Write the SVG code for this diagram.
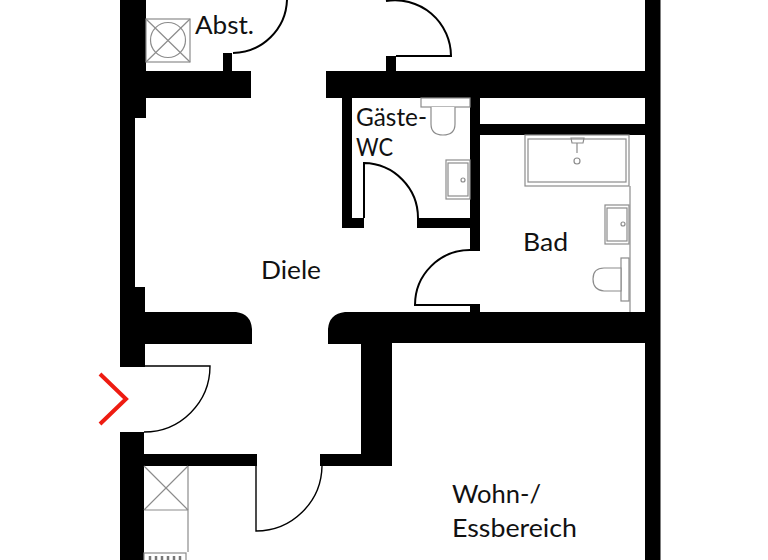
<svg xmlns="http://www.w3.org/2000/svg" width="768" height="560" viewBox="0 0 768 560">
<style>
.w{fill:#000}
.d{fill:none;stroke:#000;stroke-width:2}
.e{fill:none;stroke:#000;stroke-width:1.4}
.f{fill:#fff;stroke:#8c8c8c;stroke-width:1.2}
.g{fill:none;stroke:#8c8c8c;stroke-width:1.2}
text{font-family:Lato,"Open Sans","Liberation Sans",sans-serif;font-size:24.500px;fill:#111}
</style>
<rect width="768" height="560" fill="#fff"/>
<g id="walls">
<path class="w" d="M120 0H146V71H223V53H232V71H251V98H146V118H135V287H145V312H236Q251 314 252 329V344H145V367H120Z"/>
<path class="w" d="M120 432H144V454H257V466H144V560H120Z"/>
<path class="w" d="M326 71H386V56H396V71H645V0H660.500V560H645V343H392V466H320V454H361V344H328V329Q329 314 345 312H470V304H480V312H645V135H480V251H470V228H417V218H470V98H480V124H645V98H352V228H342V98H326Z"/>
<rect class="w" x="342" y="218" width="22" height="10"/>
</g>
<g id="doors">
<path class="d" d="M233 53A55 55 0 0 0 287 0"/>
<path class="d" d="M396 56H451A56 56 0 0 0 386 1"/>
<path class="d" d="M364 218V163A55 55 0 0 1 418 218"/>
<path class="d" d="M470 250A55 55 0 0 0 415 305H470"/>
<path class="e" d="M144 366H210A66 66 0 0 1 144 432"/>
<path class="e" d="M256 466V531A66 66 0 0 0 322 466"/>
</g>
<g id="entry">
<path d="M100 374L126 399L100 424" fill="none" stroke="#ee1c12" stroke-width="4"/>
</g>
<g id="shaft"><rect class="f" x="146" y="19" width="44" height="43"/><path class="g" d="M146 19L190 62M190 19L146 62"/><circle class="g" cx="168" cy="40" r="17.500"/></g>
<g id="wc"><rect class="f" x="421" y="98" width="49" height="9"/><path class="f" d="M431 107V124Q431 135 443 135T455 124V107"/><rect class="f" x="446" y="160" width="24" height="39"/><rect class="g" x="448" y="163" width="20" height="33"/><circle class="g" cx="463" cy="180" r="2"/></g>
<g id="bath"><rect class="f" x="525" y="135" width="104" height="51"/><rect class="g" x="528" y="139" width="98" height="43"/><path class="g" d="M572 143L571 138H584L583 143ZM577 143V153"/><circle class="g" cx="577" cy="161" r="3"/><path class="g" d="M630 186V312"/><rect class="f" x="605" y="205" width="24" height="39"/><rect class="g" x="607" y="208" width="20" height="33"/><circle class="g" cx="623" cy="224" r="2"/><rect class="f" x="621" y="258" width="8" height="43"/><path class="f" d="M621 268H604Q593 268 593 279T604 291H621Z"/></g>
<g id="kitchen"><path class="g" d="M188 466V552"/><path class="g" d="M144 510H188M144 466L188 510M188 466L144 510"/><rect class="f" x="144" y="553" width="42" height="8"/><path d="M150 556V560M156 556V560M162 556V560M168 556V560M174 556V560M180 556V560" stroke="#777" stroke-width="2.500"/></g>
<g id="labels">
<text x="195" y="34" textLength="59" lengthAdjust="spacingAndGlyphs">Abst.</text>
<text x="356" y="126" textLength="71" lengthAdjust="spacingAndGlyphs">Gäste-</text>
<text x="356" y="156" textLength="37" lengthAdjust="spacingAndGlyphs">WC</text>
<text x="523" y="251" textLength="45" lengthAdjust="spacingAndGlyphs">Bad</text>
<text x="261" y="279" textLength="60" lengthAdjust="spacingAndGlyphs">Diele</text>
<text x="452" y="503" textLength="89" lengthAdjust="spacingAndGlyphs">Wohn-/</text>
<text x="452" y="537" textLength="125" lengthAdjust="spacingAndGlyphs">Essbereich</text>
</g>
</svg>
